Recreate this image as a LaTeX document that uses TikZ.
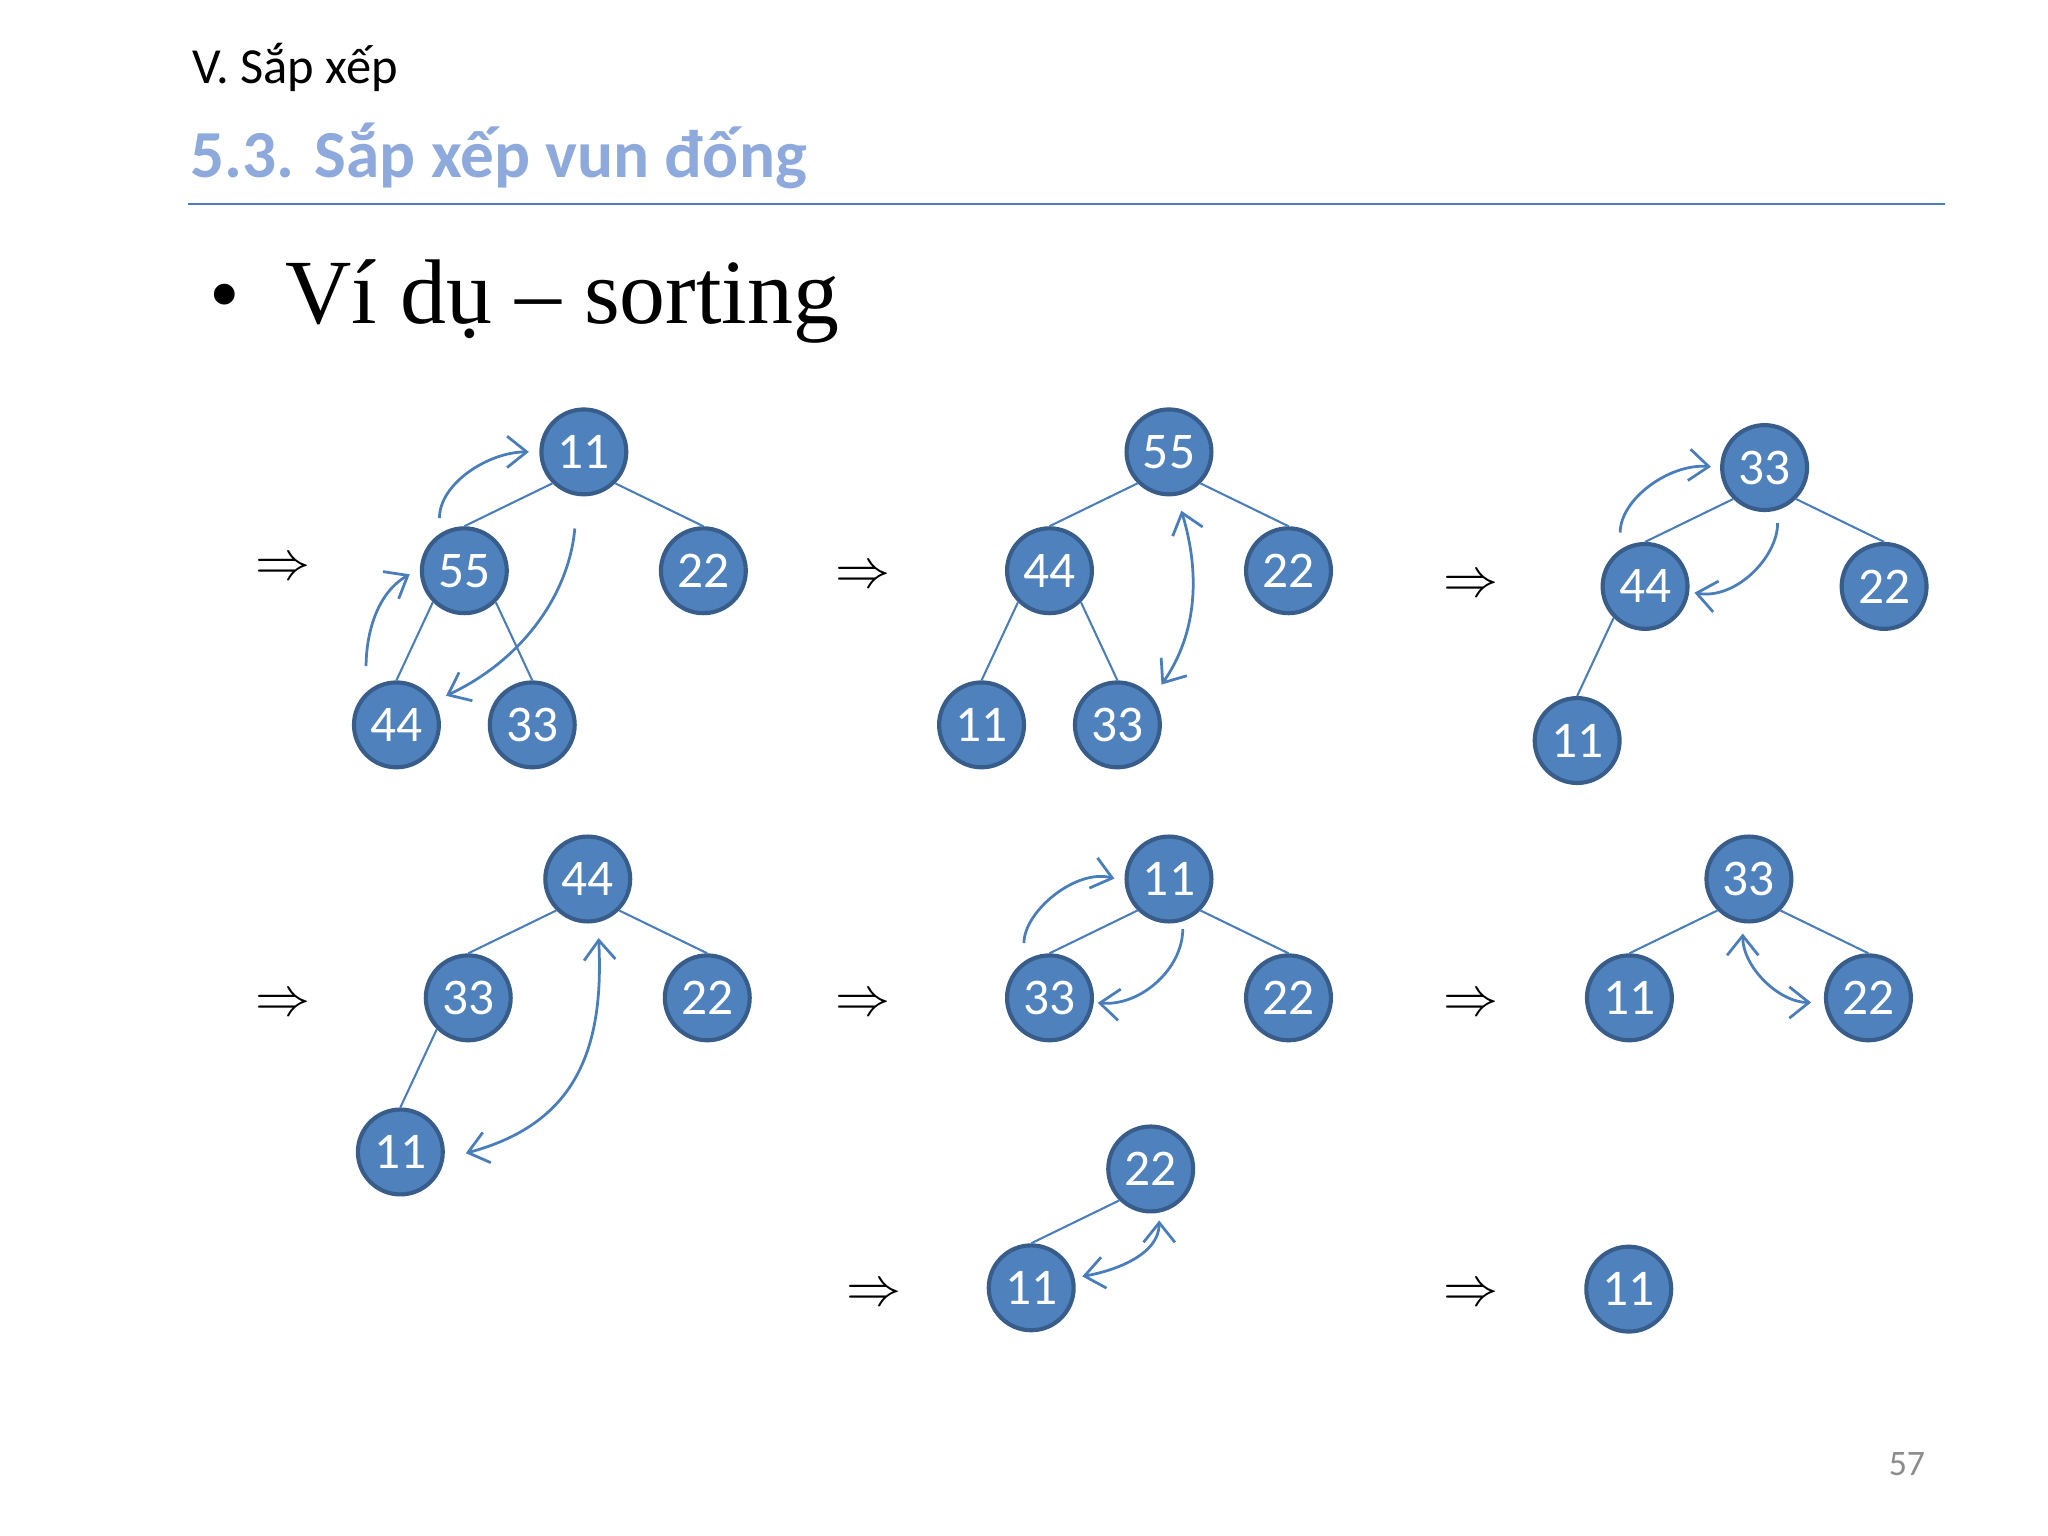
\documentclass[tikz,border=0pt]{standalone}
\usepackage{fontspec}
\setmainfont{Carlito}
\newfontfamily\bodyfont{Liberation Serif}
\usetikzlibrary{calc, positioning, arrows.meta}
\definecolor{nodefill}{HTML}{4F81BD}
\definecolor{nodeline}{HTML}{385D8A}
\definecolor{lineblue}{HTML}{4A7EBB}
\definecolor{headblue}{HTML}{8EA9DB}
\tikzset{barb/.tip = {Straight Barb[length = 1.5mm, width = 2.4mm]}}

\begin{document}
\begin{tikzpicture}[on grid,
  vtx/.style = {draw = nodeline, fill = nodefill, circle, line width = 0.9pt, minimum size = 0.65cm, inner sep = 0pt, text = white, font = \fontsize{11.2}{12}\selectfont},
  lnk/.style = {draw = lineblue, line width = 0.45pt},
  swp/.style = {draw = lineblue, line width = 0.6pt, -barb},
  dswp/.style = {swp, barb-barb},
  go/.style = {inner sep = 0pt, font = \fontsize{11.8}{12}\selectfont}]
\useasboundingbox (0,0) rectangle (15.68,11.76);
\node[anchor = base west, inner sep = 0pt, font = \fontsize{11}{13}\selectfont] (sec) at (1.47,11.12) {V. Sắp xếp};
\node[anchor = base west, inner sep = 0pt, text = headblue, font = \bfseries\fontsize{14.65}{16}\selectfont] (ttl) at (1.45,10.40) {5.3. Sắp xếp vun đống};
\draw[lineblue, line width = 0.5pt] (1.44,10.20) -- (14.89,10.20);
\node[anchor = base west, inner sep = 0pt, font = \bodyfont\fontsize{19}{21}\selectfont] (bul) at (1.60,9.28) {\textbullet};
\node[anchor = base west, inner sep = 0pt, font = \bodyfont\fontsize{20}{22}\selectfont] (ex) at (2.18,9.28) {Ví dụ – sorting};
\node[text = black!45, font = \fontsize{7.8}{9}\selectfont] (pg) at (14.60,0.55) {57};

\node[go] (go1) at (2.17,7.40) {$\Rightarrow$};
\node[go] (go2) at (6.61,7.34) {$\Rightarrow$};
\node[go] (go3) at (11.26,7.27) {$\Rightarrow$};
\node[go] (go4) at (2.17,4.06) {$\Rightarrow$};
\node[go] (go5) at (6.61,4.06) {$\Rightarrow$};
\node[go] (go6) at (11.26,4.06) {$\Rightarrow$};
\node[go] (go7) at (6.69,1.84) {$\Rightarrow$};
\node[go] (go8) at (11.26,1.84) {$\Rightarrow$};

\node[vtx] (A1) at (4.47,8.30) {11};
\node[vtx, below left = 0.91cm and 0.915cm of A1] (B1) {55};
\node[vtx, below right = 0.91cm and 0.915cm of A1] (C1) {22};
\node[vtx, below left = 1.18cm and 0.52cm of B1] (D1) {44};
\node[vtx, below right = 1.18cm and 0.52cm of B1] (E1) {33};

\node[vtx] (A2) at (8.95,8.30) {55};
\node[vtx, below left = 0.91cm and 0.915cm of A2] (B2) {44};
\node[vtx, below right = 0.91cm and 0.915cm of A2] (C2) {22};
\node[vtx, below left = 1.18cm and 0.52cm of B2] (D2) {11};
\node[vtx, below right = 1.18cm and 0.52cm of B2] (E2) {33};

\node[vtx] (A3) at (13.51,8.18) {33};
\node[vtx, below left = 0.91cm and 0.915cm of A3] (B3) {44};
\node[vtx, below right = 0.91cm and 0.915cm of A3] (C3) {22};
\node[vtx, below left = 1.18cm and 0.52cm of B3] (D3) {11};

\node[vtx] (A4) at (4.50,5.03) {44};
\node[vtx, below left = 0.91cm and 0.915cm of A4] (B4) {33};
\node[vtx, below right = 0.91cm and 0.915cm of A4] (C4) {22};
\node[vtx, below left = 1.18cm and 0.52cm of B4] (D4) {11};

\node[vtx] (A5) at (8.95,5.03) {11};
\node[vtx, below left = 0.91cm and 0.915cm of A5] (B5) {33};
\node[vtx, below right = 0.91cm and 0.915cm of A5] (C5) {22};

\node[vtx] (A6) at (13.39,5.03) {33};
\node[vtx, below left = 0.91cm and 0.915cm of A6] (B6) {11};
\node[vtx, below right = 0.91cm and 0.915cm of A6] (C6) {22};

\node[vtx] (A7) at (8.81,2.81) {22};
\node[vtx, below left = 0.91cm and 0.915cm of A7] (B7) {11};

\node[vtx] (A8) at (12.47,1.89) {11};

\foreach \i/\k/\j in {
A1/225/B1, A1/315/C1, B1/225/D1, B1/315/E1,
A2/225/B2, A2/315/C2, B2/225/D2, B2/315/E2,
A3/225/B3, A3/315/C3, B3/225/D3,
A4/225/B4, A4/315/C4, B4/225/D4,
A5/225/B5, A5/315/C5, A6/225/B6, A6/315/C6, A7/225/B7}{
\draw[lnk] (\i.\k) -- (\j.north);
}

\draw[swp, shorten <= 2mm, shorten >= 0.9mm] (D1.133) to[out = 90, in = 210] (B1.177);
\draw[swp, shorten <= 1.2mm, shorten >= 0.8mm] (B1.124) to[out = 90, in = 180] (A1.180);
\draw[swp, shorten <= 2.5mm, shorten >= 1mm] (A1.262) to[out = -95, in = 25] (D1.32);
\draw[dswp, shorten <= 1.2mm, shorten >= 1.2mm] (A2.280) to[out = -73, in = 55] (E2.38);
\draw[swp, shorten <= 1.3mm, shorten >= 0.7mm] (B3.124) to[out = 90, in = 175] (A3.180);
\draw[swp, shorten <= 1mm, shorten >= 0.4mm] (A3.287) to[out = -90, in = -10] (B3.353);
\draw[dswp, shorten <= 1.2mm, shorten >= 1.7mm] (A4.283) to[out = -87, in = 15, looseness = 1.2] (D4.351);
\draw[swp, shorten <= 1.4mm, shorten >= 0.8mm] (B5.125) to[out = 90, in = 165] (A5.183);
\draw[swp, shorten <= 0.6mm, shorten >= 0.3mm] (A5.288) to[out = -90, in = -5] (B5.354);
\draw[dswp, shorten <= 0.8mm, shorten >= 1mm] (A6.262) to[out = -90, in = 180] (C6.186);
\draw[dswp, shorten <= 0.6mm, shorten >= 0.6mm] (A7.281) to[out = -90, in = 10] (B7.13);
\end{tikzpicture}
\end{document}
